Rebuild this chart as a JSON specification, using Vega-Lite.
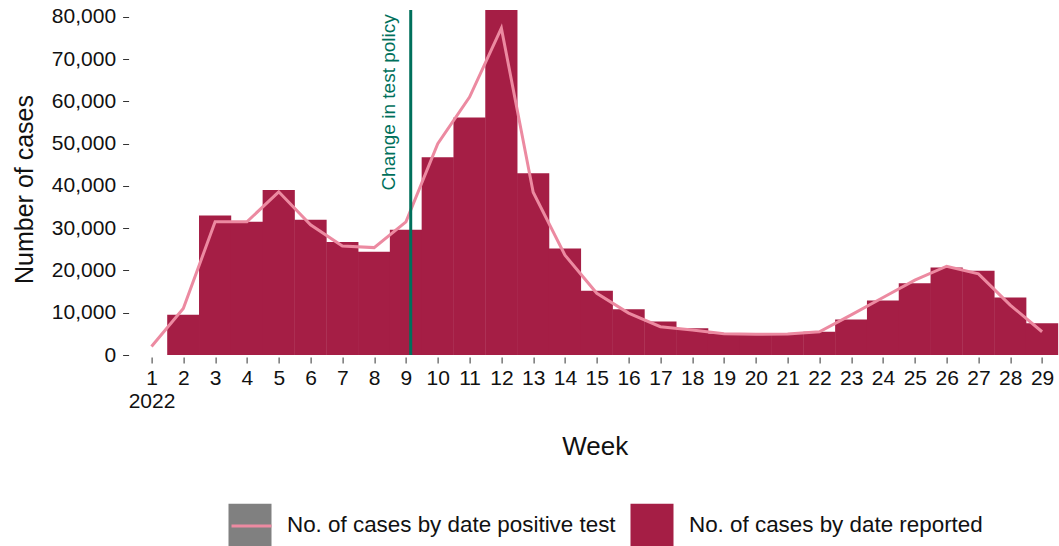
{
  "$schema": "https://vega.github.io/schema/vega-lite/v6.json",
  "width": 928.4,
  "height": 345,
  "autosize": "none",
  "padding": {"left": 130.6, "top": 10, "right": 0, "bottom": 191},
  "background": "white",
  "config": {
    "view": {"stroke": null},
    "font": "Liberation Sans",
    "axis": {"labelFont": "Liberation Sans", "titleFont": "Liberation Sans", "labelColor": "#111", "titleColor": "#111", "tickColor": "#333", "grid": false, "domain": false, "titleFontWeight": "normal"},
    "legend": {"labelFont": "Liberation Sans", "labelColor": "#111"}
  },
  "datasets": {
    "reported": [
      {"week": 2, "cases": 9500}, {"week": 3, "cases": 33000}, {"week": 4, "cases": 31500},
      {"week": 5, "cases": 39000}, {"week": 6, "cases": 32000}, {"week": 7, "cases": 26700},
      {"week": 8, "cases": 24400}, {"week": 9, "cases": 29600}, {"week": 10, "cases": 46800},
      {"week": 11, "cases": 56200}, {"week": 12, "cases": 81600}, {"week": 13, "cases": 43000},
      {"week": 14, "cases": 25200}, {"week": 15, "cases": 15200}, {"week": 16, "cases": 10800},
      {"week": 17, "cases": 7900}, {"week": 18, "cases": 6300}, {"week": 19, "cases": 5100},
      {"week": 20, "cases": 5000}, {"week": 21, "cases": 5000}, {"week": 22, "cases": 5500},
      {"week": 23, "cases": 8400}, {"week": 24, "cases": 12900}, {"week": 25, "cases": 17000},
      {"week": 26, "cases": 20700}, {"week": 27, "cases": 19900}, {"week": 28, "cases": 13600},
      {"week": 29, "cases": 7500}
    ],
    "positive": [
      {"week": 1, "cases": 2000}, {"week": 2, "cases": 11000}, {"week": 3, "cases": 31500},
      {"week": 4, "cases": 31500}, {"week": 5, "cases": 38600}, {"week": 6, "cases": 30800},
      {"week": 7, "cases": 25800}, {"week": 8, "cases": 25400}, {"week": 9, "cases": 31500},
      {"week": 10, "cases": 50000}, {"week": 11, "cases": 61000}, {"week": 12, "cases": 77300},
      {"week": 13, "cases": 38500}, {"week": 14, "cases": 23600}, {"week": 15, "cases": 14600},
      {"week": 16, "cases": 9900}, {"week": 17, "cases": 6700}, {"week": 18, "cases": 5900},
      {"week": 19, "cases": 5000}, {"week": 20, "cases": 4900}, {"week": 21, "cases": 4950},
      {"week": 22, "cases": 5500}, {"week": 23, "cases": 9500}, {"week": 24, "cases": 13600},
      {"week": 25, "cases": 17700}, {"week": 26, "cases": 21000}, {"week": 27, "cases": 19200},
      {"week": 28, "cases": 11800}, {"week": 29, "cases": 5500}
    ],
    "policy": [{"week": 9.15, "cases": 80600, "label": "Change in test policy"}]
  },
  "encoding": {
    "x": {"field": "week", "type": "quantitative",
      "scale": {"domain": [0.5, 29.375], "nice": false, "zero": false},
      "axis": {"title": "Week", "values": [1,2,3,4,5,6,7,8,9,10,11,12,13,14,15,16,17,18,19,20,21,22,23,24,25,26,27,28,29],
        "labelExpr": "datum.value == 1 ? ['1', '2022'] : '' + datum.value",
        "labelFontSize": 21, "labelLineHeight": 23, "labelOverlap": false, "labelFlush": false, "labelBound": false,
        "tickSize": 6, "offset": 2, "labelPadding": 4,
        "titleFontSize": 26, "titlePadding": 22}},
    "y": {"field": "cases", "type": "quantitative",
      "scale": {"domain": [0, 81600], "nice": false},
      "axis": {"title": "Number of cases", "values": [0,10000,20000,30000,40000,50000,60000,70000,80000],
        "labelExpr": "format(datum.value, ',')", "labelFontSize": 21, "tickSize": 6, "offset": 2, "labelPadding": 7, "labelOverlap": false,
        "titleFontSize": 25, "titlePadding": 14, "titleY": 179}}
  },
  "layer": [
    {
      "data": {"name": "reported"},
      "mark": {"type": "bar", "width": 32.2, "clip": true},
      "encoding": {
        "fill": {"datum": "No. of cases by date reported",
          "scale": {"domain": ["No. of cases by date positive test", "No. of cases by date reported"], "range": ["#808080", "#a51e45"]},
          "legend": {"title": null, "orient": "none", "legendX": 97.4, "legendY": 493, "direction": "horizontal",
            "symbolType": "square", "symbolSize": 1850, "symbolStrokeWidth": 0, "symbolOpacity": 1,
            "labelFontSize": 22.4, "labelOffset": 15, "columnPadding": 14, "padding": 0, "labelLimit": 500}}
      }
    },
    {
      "data": {"name": "positive"},
      "mark": {"type": "line", "strokeWidth": 3},
      "encoding": {
        "stroke": {"datum": "No. of cases by date positive test",
          "scale": {"range": ["#ec8aa1"]},
          "legend": {"title": null, "orient": "none", "legendX": 99.4, "legendY": 494.5,
            "symbolType": "stroke", "symbolSize": 1600, "symbolStrokeWidth": 3,
            "labelExpr": "''", "labelFontSize": 22, "padding": 0}}
      }
    },
    {
      "data": {"name": "policy"},
      "mark": {"type": "rule", "color": "#00705b", "strokeWidth": 3},
      "encoding": {"y": {"datum": 0}, "y2": {"datum": 81600}}
    },
    {
      "data": {"name": "policy"},
      "mark": {"type": "text", "angle": 270, "align": "right", "baseline": "bottom", "dy": -12, "fontSize": 19, "color": "#00705b", "font": "Liberation Sans"},
      "encoding": {
        "text": {"field": "label"}
      }
    }
  ]
}
